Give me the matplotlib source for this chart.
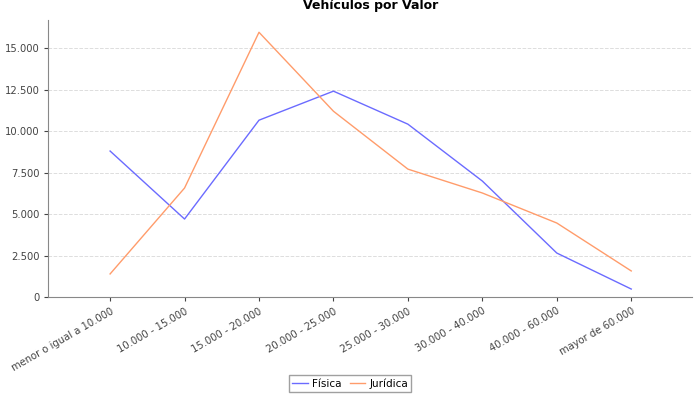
import matplotlib

matplotlib.use("Agg")
import matplotlib.pyplot as plt
from matplotlib.ticker import FuncFormatter, MultipleLocator

categories = ["menor o igual a 10.000", "10.000 - 15.000", "15.000 - 20.000", "20.000 - 25.000",
              "25.000 - 30.000", "30.000 - 40.000", "40.000 - 60.000", "mayor de 60.000"]
fisica = [8800, 4700, 10660, 12410, 10420, 6990, 2650, 480]
juridica = [1390, 6570, 15960, 11200, 7710, 6270, 4460, 1570]

fig = plt.figure(figsize=(7, 4), dpi=100)
ax = fig.add_axes([0.069, 0.2575, 0.92, 0.6925])
x = range(len(categories))
ax.plot(x, fisica, color="#6b6bff", linewidth=1, label="Física")
ax.plot(x, juridica, color="#ff9c6b", linewidth=1, label="Jurídica")

ax.set_xlim(-0.83, 7.82)
ax.set_ylim(0, 16700)
ax.yaxis.set_major_locator(MultipleLocator(2500))
ax.yaxis.set_major_formatter(FuncFormatter(lambda v, p: f"{int(v):,}".replace(",", ".")))
ax.set_xticks(list(x), categories, rotation=30, ha="right", rotation_mode="anchor")
ax.tick_params(labelsize=7.2, colors="#444444", length=3)
ax.grid(axis="y", color="#dddddd", linestyle="--", linewidth=0.7)
for s in ("top", "right"):
    ax.spines[s].set_visible(False)
for s in ("left", "bottom"):
    ax.spines[s].set_color("#888888")
ax.set_title("Vehículos por Valor", fontsize=9, fontweight="bold", pad=8)
fig.legend(loc="lower center", bbox_to_anchor=(0.5, 0.0), ncol=2, fontsize=7.5,
           fancybox=False, edgecolor="#888888", borderaxespad=0.8, handlelength=1.5,
           columnspacing=0.8, handletextpad=0.4, borderpad=0.3)
fig.savefig("out.png", dpi=100)
